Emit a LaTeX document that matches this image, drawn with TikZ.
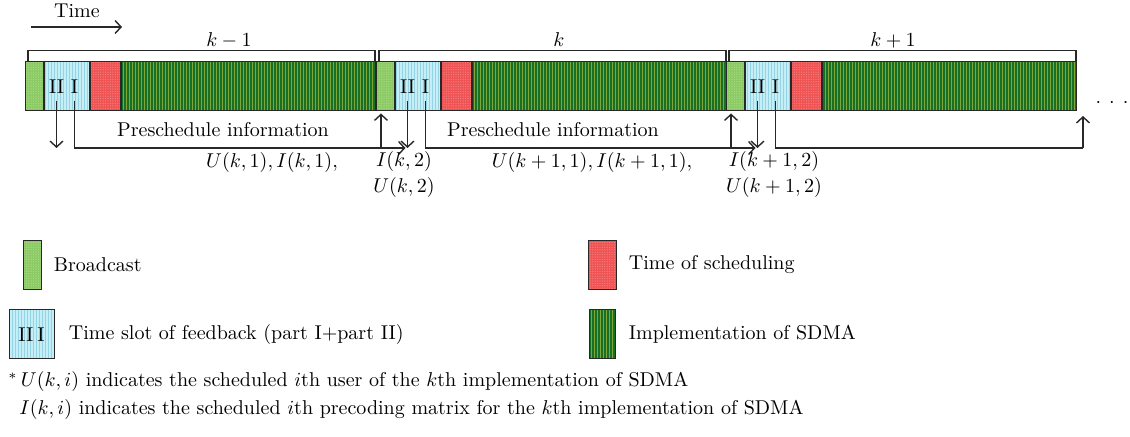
\documentclass[tikz,border=0pt]{standalone}
\usepackage{amsmath}
\usepackage{amssymb}
\usetikzlibrary{positioning,calc,arrows.meta,patterns.meta}

\definecolor{bcgreen}{RGB}{140,202,102}
\definecolor{bcdot}{RGB}{172,222,134}
\definecolor{fbblue}{RGB}{198,238,246}
\definecolor{fbline}{RGB}{146,212,228}
\definecolor{schred}{RGB}{238,84,84}
\definecolor{schdot}{RGB}{250,132,132}
\definecolor{sdmagreen}{RGB}{24,112,38}
\definecolor{sdmaline}{RGB}{128,166,54}
\definecolor{edge}{RGB}{40,40,40}

\begin{document}
\begin{tikzpicture}[
   x=0.5pt,y=-0.5pt,
   every node/.style={inner sep=0pt},
   slot/.style={draw=edge,line width=0.5pt,minimum height=24.5pt,inner sep=0pt},
   bcast/.style={slot,minimum width=9pt,preaction={fill=bcgreen},
      pattern={Dots[distance=1.2pt,radius=0.3pt]},pattern color=bcdot},
   fback/.style={slot,minimum width=22.5pt,preaction={fill=fbblue},
      pattern={Lines[angle=90,distance=1.5pt,line width=0.5pt]},pattern color=fbline},
   sched/.style={slot,minimum width=15pt,preaction={fill=schred},
      pattern={Dots[distance=1.2pt,radius=0.3pt]},pattern color=schdot},
   impl/.style={slot,minimum width=127pt,preaction={fill=sdmagreen},
      pattern={Lines[angle=90,distance=1.5pt,line width=0.4pt]},pattern color=sdmaline},
   bracket/.style={draw=edge,line width=0.7pt},
   flow/.style={-{Straight Barb[length=3pt,width=6.5pt]},line width=0.7pt,draw=edge},
   link/.style={line width=0.7pt,draw=edge}]
\useasboundingbox (0,0) rectangle (1130,437);

\node (time) at (77,11) {Time};
\coordinate (t0) at (31,27);
\coordinate (t1) at (122,27);
\draw[flow] (t0) -- (t1);

% one frame: broadcast, feedback, scheduling, SDMA
\foreach \f/\x/\lx/\lab in {1/25/229/k-1,2/376/559/k,3/726/893/k+1}{
  \node[bcast,anchor=west] (b\f) at (\x,86.5) {};
  \node[fback,right=0pt of b\f] (fb\f) {};
  \node[sched,right=0pt of fb\f] (sc\f) {};
  \node[impl,right=0pt of sc\f] (im\f) {};
  \node (p2\f) at ([xshift=-5.25pt]fb\f.center) {II};
  \node (p1\f) at ([xshift=3.75pt]fb\f.center) {I};
  \draw[bracket] ([xshift=1.5pt]b\f.north west) -- ++(0pt,5.5pt) -| ([xshift=-0.5pt]im\f.north east);
  \node (lab\f) at (\lx,40) {$\lab$};
  \coordinate (d\f) at (p2\f.south |- 0,148);
  \draw[flow] ([yshift=-3.5pt]p2\f.south) -- (d\f);
}

\coordinate (nxt) at (1083,148);
\coordinate (nxtup) at (1083,116);

\draw[flow] ([yshift=-3.5pt]p11.south) |- ([xshift=-1pt]d2);
\draw[flow] ([yshift=-3.5pt]p12.south) |- ([xshift=-1pt]d3);
\draw[link] ([yshift=-3.5pt]p13.south) |- (nxt);
\draw[flow] (nxt) -- (nxtup);
\draw[flow] ([xshift=-2.25pt]b2.south |- d2) -- ([xshift=-2.25pt,yshift=-1pt]b2.south);
\draw[flow] ([xshift=-2.25pt]b3.south |- d3) -- ([xshift=-2.25pt,yshift=-1pt]b3.south);

\node (more) at (1112,103) {${\cdot}\hspace{4pt}{\cdot}\hspace{4pt}{\cdot}$};

\node (pre1) at (223,130) {Preschedule information};
\node (pre2) at (553,130) {Preschedule information};
\node (ui1) at (272,163) {$U(k,1), I(k,1),$};
\node[align=center] (iu2) at (404,175) {$I(k,2)$\\[1pt]$U(k,2)$};
\node (ui3) at (592,163) {$U(k+1,1), I(k+1,1),$};
\node[align=center] (iu4) at (774,175) {$I(k+1,2)$\\[1pt]$U(k+1,2)$};

% legend
\node[bcast] (lgb) at (32,265) {};
\node[right=6pt of lgb] (lgbt) {Broadcast};
\node[fback] (lgf) at (31.5,334.5) {II\hspace{2pt}I};
\node[right=7pt of lgf] (lgft) {Time slot of feedback (part I+part II)};
\node[sched,minimum width=14pt] (lgs) at (602,265) {};
\node[right=6pt of lgs] (lgst) {Time of scheduling};
\node[impl,minimum width=13pt] (lgi) at (602,334.5) {};
\node[right=6.5pt of lgi] (lgit) {Implementation of SDMA};

\node[anchor=west] (note1) at (8,382) {$^{*}\,U(k,i)$ indicates the scheduled $i$th user of the $k$th implementation of SDMA};
\node[anchor=west] (note2) at (19,410) {$I(k,i)$ indicates the scheduled $i$th precoding matrix for the $k$th implementation of SDMA};
\end{tikzpicture}
\end{document}
